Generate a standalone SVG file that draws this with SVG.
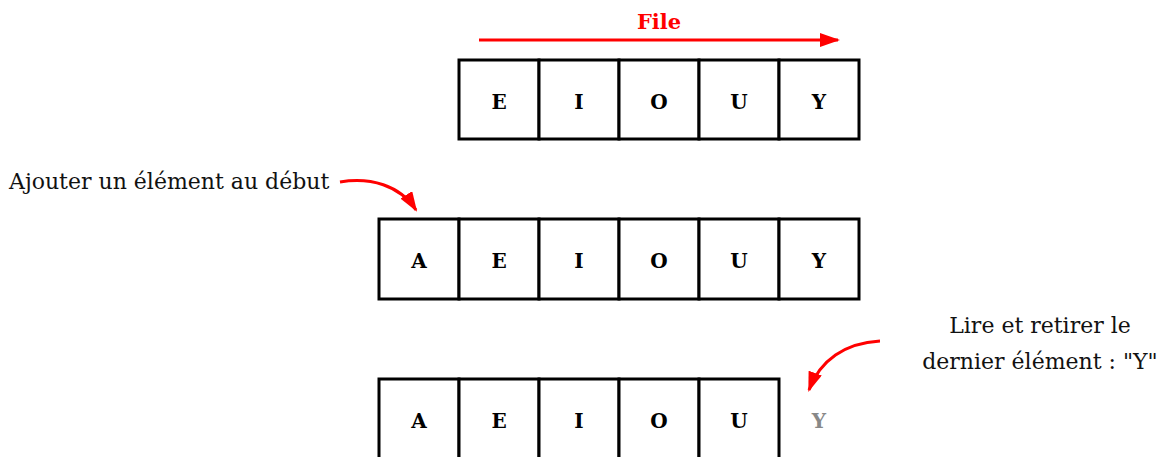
<svg xmlns="http://www.w3.org/2000/svg" width="1165" height="457" viewBox="0 0 1165 457">
<style>
.cell{fill:#fff;stroke:#000;stroke-width:3}
.lt{font-family:"DejaVu Serif","Liberation Serif",serif;font-weight:bold;font-size:20px;text-anchor:middle;fill:#000}
.lab{font-family:"DejaVu Serif","Liberation Serif",serif;font-size:22px;fill:#111}
.arr{fill:none;stroke:#f00;stroke-width:3}
</style>
<defs>
<marker id="ah2" markerWidth="20" markerHeight="14" refX="18" refY="7" orient="auto" markerUnits="userSpaceOnUse" viewBox="0 0 20 14">
<path d="M0,0 L20,7 L0,14 Z" fill="#f00"/>
</marker>
</defs>
<g id="row1">
<rect class="cell" x="459" y="60" width="80" height="79"/>
<rect class="cell" x="539" y="60" width="80" height="79"/>
<rect class="cell" x="619" y="60" width="80" height="79"/>
<rect class="cell" x="699" y="60" width="80" height="79"/>
<rect class="cell" x="779" y="60" width="80" height="79"/>
<text class="lt" x="499" y="109">E</text>
<text class="lt" x="579" y="109">I</text>
<text class="lt" x="659" y="109">O</text>
<text class="lt" x="739" y="109">U</text>
<text class="lt" x="819" y="109">Y</text>
</g>
<g id="row2">
<rect class="cell" x="379" y="219" width="80" height="80"/>
<rect class="cell" x="459" y="219" width="80" height="80"/>
<rect class="cell" x="539" y="219" width="80" height="80"/>
<rect class="cell" x="619" y="219" width="80" height="80"/>
<rect class="cell" x="699" y="219" width="80" height="80"/>
<rect class="cell" x="779" y="219" width="80" height="80"/>
<text class="lt" x="419" y="268">A</text>
<text class="lt" x="499" y="268">E</text>
<text class="lt" x="579" y="268">I</text>
<text class="lt" x="659" y="268">O</text>
<text class="lt" x="739" y="268">U</text>
<text class="lt" x="819" y="268">Y</text>
</g>
<g id="row3">
<rect class="cell" x="379" y="379" width="80" height="80"/>
<rect class="cell" x="459" y="379" width="80" height="80"/>
<rect class="cell" x="539" y="379" width="80" height="80"/>
<rect class="cell" x="619" y="379" width="80" height="80"/>
<rect class="cell" x="699" y="379" width="80" height="80"/>
<text class="lt" x="419" y="428">A</text>
<text class="lt" x="499" y="428">E</text>
<text class="lt" x="579" y="428">I</text>
<text class="lt" x="659" y="428">O</text>
<text class="lt" x="739" y="428">U</text>
<text class="lt" x="819" y="428" style="fill:#888">Y</text>
</g>
<g id="title">
<text x="659" y="29" font-family="DejaVu Serif, serif" font-weight="bold" font-size="21" fill="#f00" text-anchor="middle">File</text>
</g>
<g id="label-add">
<text class="lab" x="9" y="189">Ajouter un élément au début</text>
</g>
<g id="label-remove">
<text class="lab" x="1040" y="333" text-anchor="middle">Lire et retirer le</text>
<text class="lab" x="1040" y="369" text-anchor="middle">dernier élément : "Y"</text>
</g>
<g id="connectors">
<path class="arr" d="M479,40 L838,40" marker-end="url(#ah2)" stroke-width="3.5"/>
<path class="arr" d="M340,182 C370,177 400,185 416,210" marker-end="url(#ah2)"/>
<path class="arr" d="M880,341 C845,343 820,360 809,390" marker-end="url(#ah2)"/>
</g>
</svg>
